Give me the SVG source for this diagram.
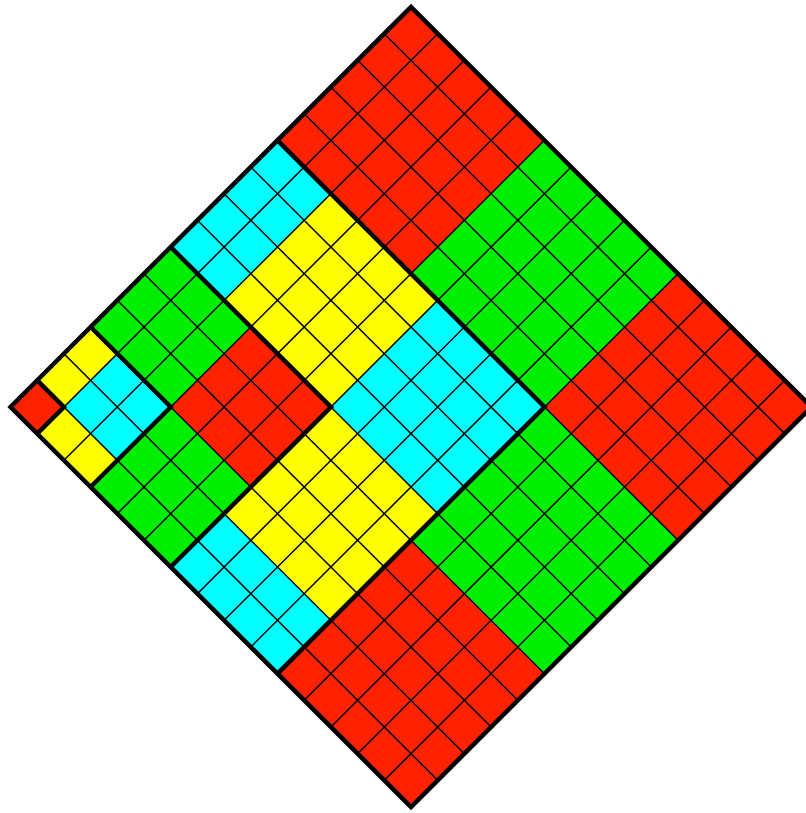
<svg xmlns="http://www.w3.org/2000/svg" width="806" height="813" viewBox="0 0 806 813">
<style>
.r{fill:#ff2200}.g{fill:#00ee00}.c{fill:#00ffff}.y{fill:#ffff00}
.thin{stroke:#000;stroke-width:1.5;fill:none;vector-effect:non-scaling-stroke}
.thick{stroke:#000;stroke-width:4.5;fill:none;stroke-linejoin:miter;vector-effect:non-scaling-stroke}
</style>
<rect width="806" height="813" fill="#fff"/>
<g transform="matrix(26.7,-26.667,26.7,26.667,10.5,407)">
<g id="size5">
<rect class="r" x="10" y="0" width="5" height="5"/>
<rect class="g" x="10" y="5" width="5" height="5"/>
<rect class="r" x="10" y="10" width="5" height="5"/>
<rect class="g" x="5" y="10" width="5" height="5"/>
<rect class="r" x="0" y="10" width="5" height="5"/>
</g>
<g id="size4">
<rect class="c" x="6" y="0" width="4" height="2"/>
<rect class="y" x="6" y="2" width="4" height="4"/>
<rect class="c" x="6" y="6" width="4" height="4"/>
<rect class="y" x="2" y="6" width="4" height="4"/>
<rect class="c" x="0" y="6" width="2" height="4"/>
</g>
<g id="size3">
<rect class="g" x="3" y="0" width="3" height="3"/>
<rect class="r" x="3" y="3" width="3" height="3"/>
<rect class="g" x="0" y="3" width="3" height="3"/>
</g>
<g id="size2">
<rect class="y" x="1" y="0" width="2" height="1"/>
<rect class="c" x="1" y="1" width="2" height="2"/>
<rect class="y" x="0" y="1" width="1" height="2"/>
</g>
<g id="size1">
<rect class="r" x="0" y="0" width="1" height="1"/>
</g>
<g id="grid">
<path class="thin" d="M1,0V15M2,0V15M3,0V15M4,0V15M5,0V15M6,0V15M7,0V15M8,0V15M9,0V15M10,0V15M11,0V15M12,0V15M13,0V15M14,0V15M0,1H15M0,2H15M0,3H15M0,4H15M0,5H15M0,6H15M0,7H15M0,8H15M0,9H15M0,10H15M0,11H15M0,12H15M0,13H15M0,14H15"/>
</g>
<g id="borders">
<path class="thick" d="M1,0V1H0M3,0V3H0M6,0V6H0M10,0V10H0"/>
<path class="thick" d="M0,0H15V15H0Z"/>
</g>
</g>
</svg>
